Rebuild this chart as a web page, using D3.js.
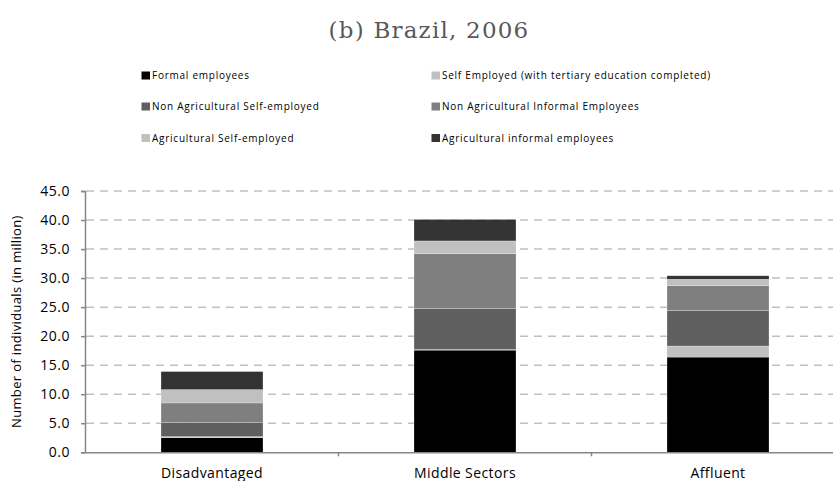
<!DOCTYPE html>
<html><head><meta charset="utf-8">
<script src="https://cdn.jsdelivr.net/npm/d3@7"></script>
<style>body{margin:0;background:#fff}svg{display:block}</style>
</head><body><svg id="c" width="833" height="481"></svg>
<script>
const categories = ["Disadvantaged", "Middle Sectors", "Affluent"];
const seriesNames = [
  "Formal employees",
  "Self Employed (with tertiary education completed)",
  "Non Agricultural Self-employed",
  "Non Agricultural Informal Employees",
  "Agricultural Self-employed",
  "Agricultural informal employees"
];
const formal        = [2.5, 17.6, 16.4];
const selfTertiary  = [0.2, 0.1, 1.9];
const nonAgSelf     = [2.4, 7.1, 6.1];
const nonAgInformal = [3.4, 9.4, 4.3];
const agSelf        = [2.3, 2.2, 1.1];
const agInformal    = [3.1, 3.7, 0.6];
const yTicks = [0, 5, 10, 15, 20, 25, 30, 35, 40, 45];
const colors = ["#000000", "#c0c0c0", "#5f5f5f", "#7f7f7f", "#c0c0c0", "#333333"];

const seriesValues = [formal, selfTertiary, nonAgSelf, nonAgInformal, agSelf, agInformal];
const rows = categories.map((c, i) => {
  const r = {cat: c};
  seriesNames.forEach((s, j) => r[s] = seriesValues[j][i]);
  return r;
});
const stacked = d3.stack().keys(seriesNames)(rows);

const svg = d3.select("#c");
const x = d3.scaleBand().domain(categories).range([85.5, 844.5]).paddingInner(0).paddingOuter(0);
const y = d3.scaleLinear().domain([0, 45]).range([452.3, 191]);
const barW = 102;
const sans = "'Open Sans', sans-serif";

// title
svg.append("text").attr("x", 429).attr("y", 38).attr("text-anchor", "middle")
  .attr("font-family", "'DejaVu Serif', serif").attr("font-size", 23).attr("letter-spacing", 1.2)
  .attr("fill", "#595959").text("(b) Brazil, 2006");

// legend
const legPos = [[141.5, 75.5], [431.5, 75.5], [141.5, 106.5], [431.5, 106.5], [141.5, 138], [431.5, 138]];
seriesNames.forEach((s, i) => {
  const g = svg.append("g").attr("transform", `translate(${legPos[i][0]},${legPos[i][1]})`);
  g.append("rect").attr("x", 0).attr("y", -4).attr("width", 8.5).attr("height", 8).attr("fill", colors[i]);
  g.append("text").attr("x", 10.5).attr("y", 3.6).attr("font-family", sans)
    .attr("font-size", 10).attr("letter-spacing", 0.75).attr("fill", "#000").text(s);
});

// gridlines
svg.append("g").selectAll("line").data(yTicks.filter(d => d > 0)).join("line")
  .attr("x1", 86).attr("x2", 833).attr("y1", d => y(d)).attr("y2", d => y(d))
  .attr("stroke", "#c0c0c0").attr("stroke-width", 1.5).attr("stroke-dasharray", "8,6");

// bars
svg.append("g").selectAll("g").data(stacked).join("g").attr("fill", (d, i) => colors[i])
  .selectAll("rect").data(d => d).join("rect")
  .attr("x", d => x(d.data.cat) + x.bandwidth() / 2 - barW / 2)
  .attr("width", barW)
  .attr("y", d => y(d[1]))
  .attr("height", d => y(d[0]) - y(d[1]))
  .attr("stroke", "#ffffff").attr("stroke-width", 0.4).attr("stroke-opacity", 0.6);

// y axis
const yAxis = d3.axisLeft(y).tickValues(yTicks).tickFormat(d3.format(".1f")).tickSize(4).tickPadding(11);
const ga = svg.append("g").attr("transform", "translate(85,0)").call(yAxis);
ga.select(".domain").attr("stroke", "#868686").attr("stroke-width", 1.5);
ga.selectAll(".tick line").attr("stroke", "#868686").attr("stroke-width", 1.5);
ga.selectAll(".tick text").attr("font-family", sans).attr("font-size", 14)
  .attr("letter-spacing", 0.5).attr("fill", "#000");

// x axis
const xAxis = d3.axisBottom(x).tickSize(0).tickPadding(16);
const gx = svg.append("g").attr("transform", `translate(0,${y(0)})`).call(xAxis);
gx.select(".domain").attr("stroke", "#868686").attr("stroke-width", 1.5);
gx.selectAll(".tick text").attr("font-family", sans).attr("font-size", 14)
  .attr("letter-spacing", 0.4).attr("fill", "#000");
// category separators
svg.append("g").selectAll("line").data(categories.slice(1)).join("line")
  .attr("x1", d => x(d)).attr("x2", d => x(d)).attr("y1", y(0)).attr("y2", y(0) + 4)
  .attr("stroke", "#868686").attr("stroke-width", 1.5);

// y label
svg.append("text").attr("transform", `translate(21,${(y(0) + y(45)) / 2}) rotate(-90)`)
  .attr("text-anchor", "middle").attr("font-family", sans)
  .attr("font-size", 13).attr("letter-spacing", 0.35).attr("fill", "#000")
  .text("Number of individuals (in million)");
</script></body></html>
